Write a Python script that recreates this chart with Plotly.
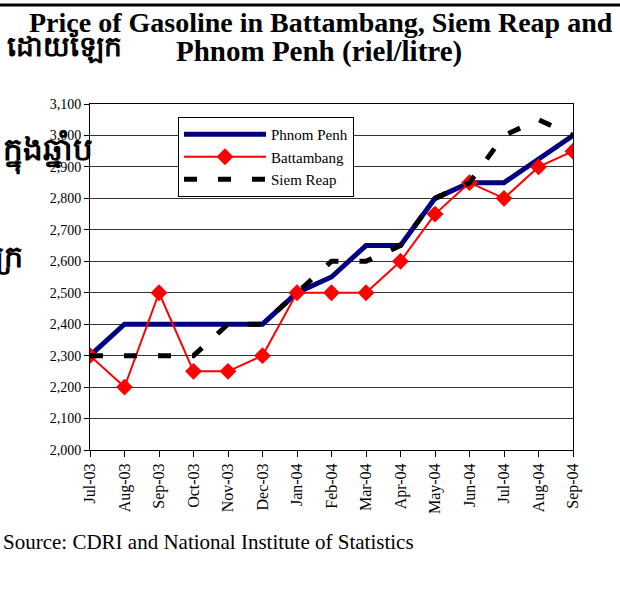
import plotly.graph_objects as go

months = ["Jul-03", "Aug-03", "Sep-03", "Oct-03", "Nov-03", "Dec-03", "Jan-04",
          "Feb-04", "Mar-04", "Apr-04", "May-04", "Jun-04", "Jul-04", "Aug-04", "Sep-04"]
phnom_penh = [2300, 2400, 2400, 2400, 2400, 2400, 2500, 2550, 2650, 2650, 2800, 2850, 2850, 2925, 3000]
battambang = [2300, 2200, 2500, 2250, 2250, 2300, 2500, 2500, 2500, 2600, 2750, 2850, 2800, 2900, 2950]
siem_reap = [2300, 2300, 2300, 2300, 2400, 2400, 2500, 2600, 2600, 2650, 2800, 2850, 3000, 3050, 3000]
y_ticks = list(range(2000, 3101, 100))

SERIF = "Liberation Serif, Times New Roman, serif"
W, H = 620, 601
L, R, T, B = 90, 47, 104, 151
PW, PH = W - L - R, H - T - B

def px_x(p):
    return (p - L) / PW

def px_y(p):
    return (H - B - p) / PH

x_idx = list(range(len(months)))

fig = go.Figure()
fig.add_trace(go.Scatter(x=x_idx, y=phnom_penh, mode="lines", name="Phnom Penh",
                         line=dict(color="#000080", width=5)))
fig.add_trace(go.Scatter(x=x_idx, y=battambang, mode="lines+markers", name="Battambang",
                         line=dict(color="#ff0000", width=2),
                         marker=dict(symbol="diamond", size=13, color="#ff0000")))
fig.add_trace(go.Scatter(x=x_idx, y=siem_reap, mode="lines", name="Siem Reap",
                         line=dict(color="#000000", width=5, dash="13px,21px")))

fig.update_layout(
    width=W, height=H,
    margin=dict(l=L, r=R, t=T, b=B),
    paper_bgcolor="white", plot_bgcolor="white",
    font=dict(family=SERIF, color="black", size=14),
    xaxis=dict(range=[0, len(months) - 1], tickmode="array", tickvals=x_idx, ticktext=months,
               tickangle=-90, ticks="outside", ticklen=6, tickcolor="black",
               showline=True, linecolor="black", linewidth=1, mirror=True,
               showgrid=False, zeroline=False, tickfont=dict(size=16, family=SERIF)),
    yaxis=dict(range=[2000, 3100], tickmode="array", tickvals=y_ticks,
               ticktext=[f"{v:,}" for v in y_ticks],
               ticks="outside", ticklen=5, tickcolor="black",
               showline=True, linecolor="black", linewidth=1, mirror=True,
               showgrid=True, gridcolor="#333333", gridwidth=1, zeroline=False,
               tickfont=dict(size=14, family=SERIF)),
    legend=dict(x=px_x(178), y=px_y(117), xanchor="left", yanchor="top",
                bgcolor="white", bordercolor="black", borderwidth=1,
                font=dict(size=15, family=SERIF), itemwidth=82),
    showlegend=True,
)

fig.add_shape(type="line", xref="paper", yref="paper", x0=px_x(0), x1=px_x(W),
              y0=px_y(5), y1=px_y(5), line=dict(color="black", width=3))

fig.add_annotation(text="<b>Price of Gasoline in Battambang, Siem Reap and</b>",
                   xref="paper", yref="paper", x=px_x(321), y=px_y(23),
                   xanchor="center", yanchor="middle", showarrow=False,
                   font=dict(size=28, family=SERIF, color="black"))
fig.add_annotation(text="<b>Phnom Penh (riel/litre)</b>",
                   xref="paper", yref="paper", x=px_x(319), y=px_y(52),
                   xanchor="center", yanchor="middle", showarrow=False,
                   font=dict(size=29, family=SERIF, color="black"))

fig.add_annotation(text="Source: CDRI and National Institute of Statistics",
                   xref="paper", yref="paper", x=px_x(1), y=px_y(542),
                   xanchor="left", yanchor="middle", showarrow=False,
                   font=dict(size=21, family=SERIF, color="black"))

fig.add_annotation(text="<b>ដោយឡែក</b>", xref="paper", yref="paper", x=px_x(5), y=px_y(46),
                   xanchor="left", yanchor="middle", showarrow=False,
                   font=dict(size=28, color="black"))
fig.add_annotation(text="<b>ក្នុងឆ្នាំប</b>", xref="paper", yref="paper", x=px_x(95), y=px_y(152),
                   xanchor="right", yanchor="middle", showarrow=False,
                   font=dict(size=31, color="black"))
fig.add_annotation(text="<b>ក្រ</b>", xref="paper", yref="paper", x=px_x(25), y=px_y(257),
                   xanchor="right", yanchor="middle", showarrow=False,
                   font=dict(size=30, color="black"))

fig.write_html("out.html", config={"displayModeBar": False},
               post_script="document.body.style.margin='0';")
